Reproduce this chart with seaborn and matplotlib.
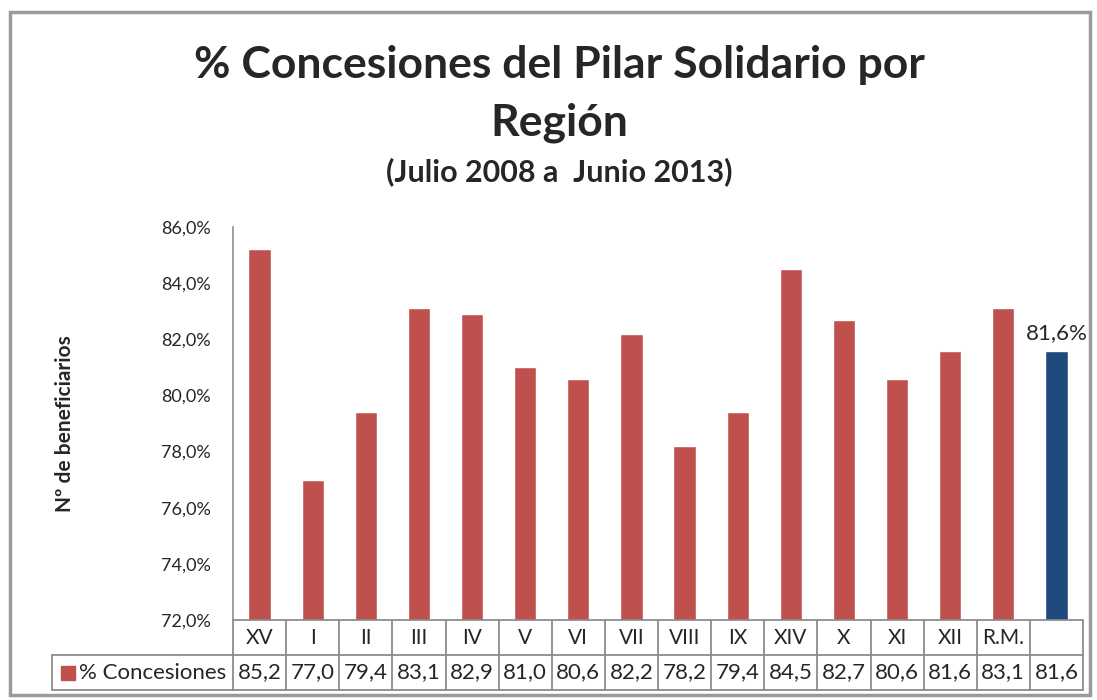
import seaborn as sns
import pandas as pd
import matplotlib.pyplot as plt
import matplotlib
from matplotlib.patches import Rectangle
from matplotlib.ticker import FuncFormatter
import matplotlib.transforms as mtransforms

sns.set_style('white')
plt.rcParams['font.family'] = ['Lato', 'DejaVu Sans']

regiones = ['XV', 'I', 'II', 'III', 'IV', 'V', 'VI', 'VII', 'VIII', 'IX',
            'XIV', 'X', 'XI', 'XII', 'R.M.', '']
concesiones = [85.2, 77.0, 79.4, 83.1, 82.9, 81.0, 80.6, 82.2, 78.2, 79.4,
               84.5, 82.7, 80.6, 81.6, 83.1, 81.6]
serie = '% Concesiones'
total_label = '81,6%'

red = '#C0504D'
blue = '#1F497D'
grid_gray = '#8C8C8C'
colores = [red] * (len(regiones) - 1) + [blue]

df = pd.DataFrame({'region': regiones, 'valor': concesiones})

fig = plt.figure(figsize=(10.97, 7.0), dpi=100)
ax = fig.add_axes([233 / 1097, 1 - 620 / 700, 850 / 1097, 393 / 700])

sns.barplot(data=df, x='region', y='valor', hue='region', palette=colores,
            legend=False, width=0.42, ax=ax, saturation=1)

ax.set_ylim(72, 86)
ax.set_yticks(range(72, 87, 2))
ax.yaxis.set_major_formatter(FuncFormatter(lambda v, p: f'{v:.1f}%'.replace('.', ',')))
ax.tick_params(axis='y', labelsize=13, length=0, pad=16)
ax.set_xticks([])
ax.set_xlabel('')
ax.set_ylabel('Nº de beneficiarios', fontsize=15, fontweight='bold', labelpad=62)
for s in ['top', 'right', 'bottom']:
    ax.spines[s].set_visible(False)
ax.spines['left'].set_color(grid_gray)
ax.spines['left'].set_linewidth(1.2)
ax.set_xlim(-0.5, len(regiones) - 0.5)

# etiqueta del total
ax.text(len(regiones) - 1, concesiones[-1] + 0.25, total_label, ha='center', va='bottom',
        fontsize=16)

# tabla de datos
trans = mtransforms.blended_transform_factory(ax.transData, ax.transAxes)
row_h = 35 / 393
n = len(regiones)
lw = 1.3
for k in range(3):
    ax.plot([-0.5, n - 0.5], [-k * row_h, -k * row_h], transform=trans, color=grid_gray,
            lw=lw, clip_on=False)
for i in range(n + 1):
    ax.plot([i - 0.5, i - 0.5], [0, -2 * row_h], transform=trans, color=grid_gray, lw=lw,
            clip_on=False)
for i, (r, v) in enumerate(zip(regiones, concesiones)):
    ax.text(i, -row_h / 2, r, transform=trans, ha='center', va='center', fontsize=15)
    ax.text(i, -1.5 * row_h, f'{v:.1f}'.replace('.', ','), transform=trans, ha='center',
            va='center', fontsize=16)

# celda de leyenda
fig.add_artist(matplotlib.lines.Line2D([52 / 1097, 233 / 1097], [1 - 655 / 700, 1 - 655 / 700],
                                       color=grid_gray, lw=lw))
fig.add_artist(matplotlib.lines.Line2D([52 / 1097, 233 / 1097], [1 - 690 / 700, 1 - 690 / 700],
                                       color=grid_gray, lw=lw))
fig.add_artist(matplotlib.lines.Line2D([52 / 1097, 52 / 1097], [1 - 655 / 700, 1 - 690 / 700],
                                       color=grid_gray, lw=lw))
fig.add_artist(Rectangle((61 / 1097, 1 - 680 / 700), 14 / 1097, 14 / 700, color=red))
fig.text(79 / 1097, 1 - 673 / 700, serie, ha='left', va='center', fontsize=16)

# marco
fig.add_artist(Rectangle((10 / 1097, 5 / 700), 1080 / 1097, 683 / 700, fill=False,
                         edgecolor='#9A9A9A', lw=2.5))

fig.text(0.51, 1 - 65 / 700, '% Concesiones del Pilar Solidario por', ha='center', va='center',
         fontsize=32, fontweight='bold')
fig.text(0.51, 1 - 123 / 700, 'Región', ha='center', va='center', fontsize=32, fontweight='bold')
fig.text(0.51, 1 - 172 / 700, '(Julio 2008 a  Junio 2013)', ha='center', va='center',
         fontsize=22, fontweight='bold')

plt.savefig('out.png', dpi=100)
